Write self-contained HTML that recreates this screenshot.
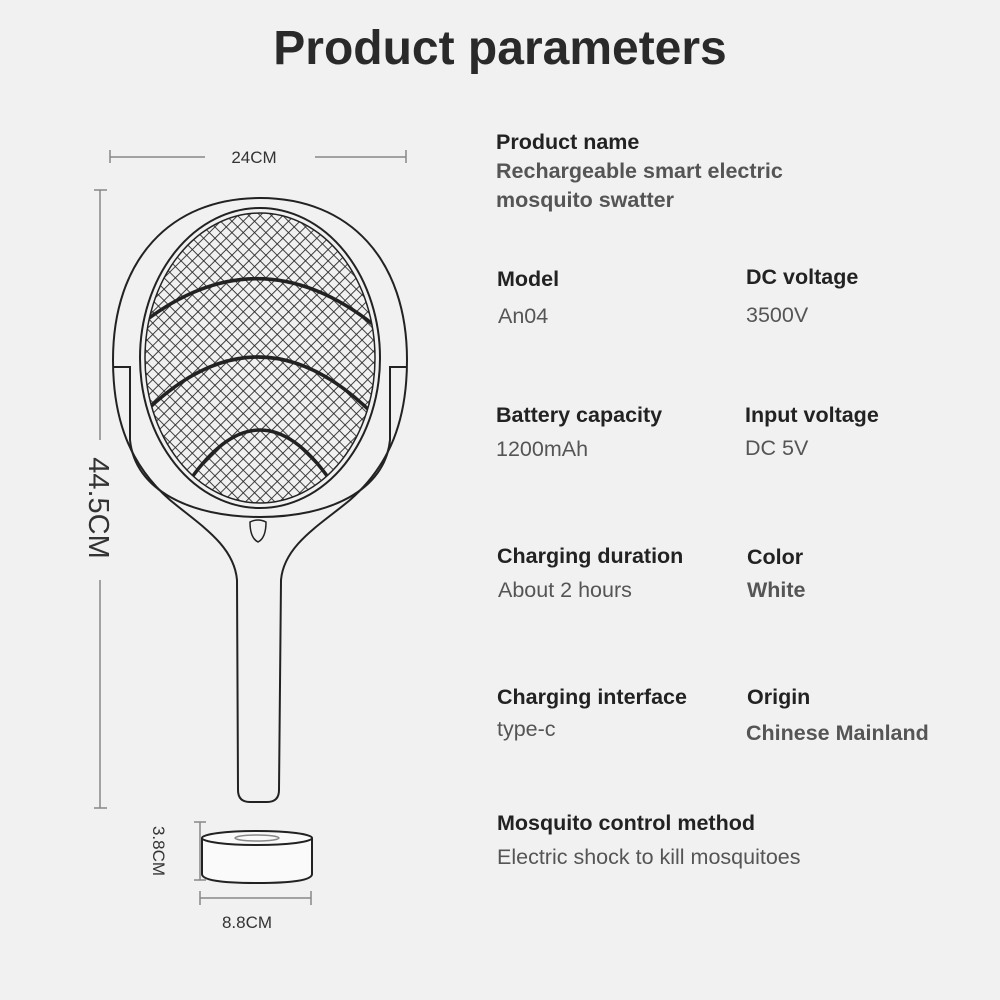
<!DOCTYPE html>
<html><head><meta charset="utf-8"><style>
body{margin:0;width:1000px;height:1000px;background:#f1f1f1;font-family:"Liberation Sans",sans-serif;position:relative;overflow:hidden}
.t{position:absolute;white-space:nowrap}
.h{font-weight:bold;color:#222;font-size:21.5px}
.v{color:#555;font-size:21.5px}
.vb{color:#555;font-size:21.5px;font-weight:bold}
</style></head><body>
<div class="t" style="left:0;width:1000px;text-align:center;top:21px;font-size:48px;font-weight:bold;color:#2a2a2a">Product parameters</div>

<svg width="1000" height="1000" style="position:absolute;left:0;top:0">
<defs>
<pattern id="m" width="8" height="8" patternUnits="userSpaceOnUse" patternTransform="rotate(45)">
<path d="M0 0H8M0 0V8" stroke="#2a2a2a" stroke-width="1.8"/>
</pattern>
<clipPath id="c"><ellipse cx="260" cy="358" rx="115" ry="145"/></clipPath>
</defs>
<g stroke="#888" stroke-width="1.5" fill="none">
<path d="M110 150V163M110 157H205M315 157H406M406 150V163"/>
<path d="M94 190H107M100 190V440M100 580V808M94 808H107"/>
<path d="M194 822H206M200 822V880M194 880H206"/>
<path d="M200 891V905M200 898H311M311 891V905"/>
</g>
<g fill="none" stroke="#222" stroke-width="2">
<path d="M237 580 C234 545 200 525 170 500 C130 465 113 420 113 360 C113 260 170 198 260 198 C350 198 407 260 407 360 C407 420 390 465 350 500 C320 525 284 545 281 580 L279 790 Q279 802 267 802 L250 802 Q238 802 238 790 Z"/>
<path d="M113 367 H130 V440 C135 490 190 517 260 517 C330 517 385 490 390 440 V367 H407"/>
<ellipse cx="260" cy="358" rx="120" ry="150"/>
<ellipse cx="260" cy="358" rx="115" ry="145" fill="url(#m)" stroke-width="1.5"/>
<g clip-path="url(#c)" stroke-width="3.5">
<path d="M140 325 Q260 230 380 330"/>
<path d="M145 412 Q260 300 375 416"/>
<path d="M190 480 Q260 380 330 480"/>
</g>
<path d="M250 522 Q258 518 266 522 Q266 538 258 542 Q250 538 250 522Z" stroke-width="1.5"/>
</g>
<g stroke="#222" stroke-width="2" fill="#fafafa">
<path d="M202 838 V874 Q202 883 257 883 Q312 883 312 874 V838"/>
<ellipse cx="257" cy="838" rx="55" ry="7"/>
<ellipse cx="257" cy="838" rx="22" ry="3" stroke="#888" stroke-width="1.5"/>
</g>
<text x="254" y="163" font-size="17" fill="#333" text-anchor="middle" font-family="Liberation Sans">24CM</text>
<text x="247" y="928" font-size="17" fill="#333" text-anchor="middle" font-family="Liberation Sans">8.8CM</text>
<text transform="translate(89,508) rotate(90)" font-size="29" fill="#333" text-anchor="middle" font-family="Liberation Sans">44.5CM</text>
<text transform="translate(153,851) rotate(90)" font-size="17" fill="#333" text-anchor="middle" font-family="Liberation Sans">3.8CM</text>
</svg>

<div class="t h" style="left:496px;top:130px">Product name</div>
<div class="t vb" style="left:496px;top:159px">Rechargeable smart electric</div>
<div class="t vb" style="left:496px;top:188px">mosquito swatter</div>

<div class="t h" style="left:497px;top:267px">Model</div>
<div class="t v" style="left:498px;top:304px">An04</div>
<div class="t h" style="left:746px;top:265px">DC voltage</div>
<div class="t v" style="left:746px;top:303px">3500V</div>

<div class="t h" style="left:496px;top:403px">Battery capacity</div>
<div class="t v" style="left:496px;top:437px">1200mAh</div>
<div class="t h" style="left:745px;top:403px">Input voltage</div>
<div class="t v" style="left:745px;top:436px">DC 5V</div>

<div class="t h" style="left:497px;top:544px">Charging duration</div>
<div class="t v" style="left:498px;top:578px">About 2 hours</div>
<div class="t h" style="left:747px;top:545px">Color</div>
<div class="t vb" style="left:747px;top:578px">White</div>

<div class="t h" style="left:497px;top:685px">Charging interface</div>
<div class="t v" style="left:497px;top:717px">type-c</div>
<div class="t h" style="left:747px;top:685px">Origin</div>
<div class="t vb" style="left:746px;top:721px">Chinese Mainland</div>

<div class="t h" style="left:497px;top:811px">Mosquito control method</div>
<div class="t v" style="left:497px;top:845px">Electric shock to kill mosquitoes</div>
</body></html>
